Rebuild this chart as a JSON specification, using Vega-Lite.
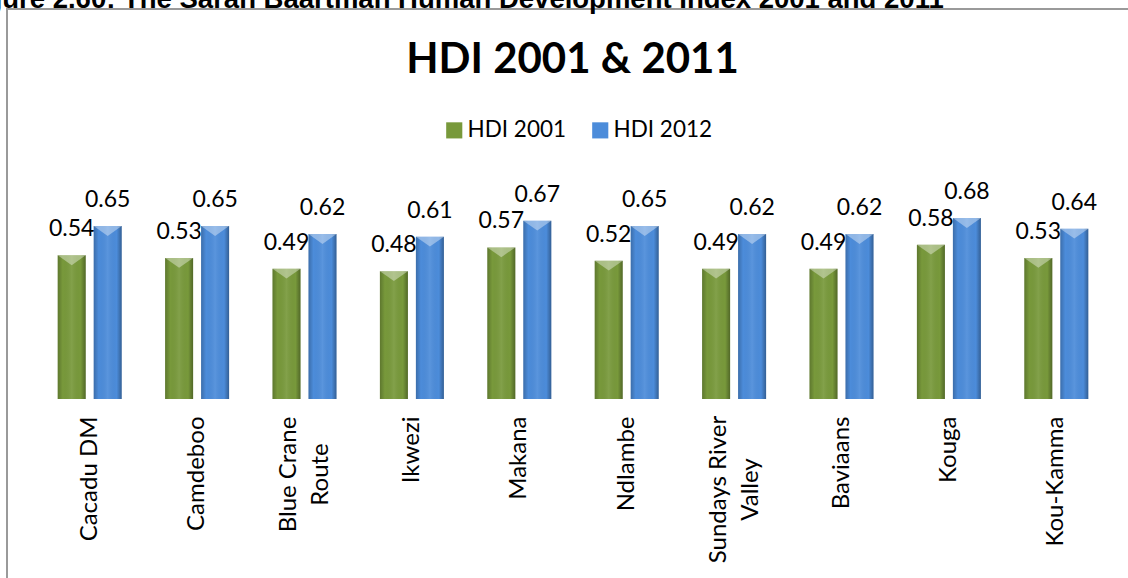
{
  "$schema": "https://vega.github.io/schema/vega-lite/v6.json",
  "width": 1132,
  "height": 575,
  "autosize": {"type": "none"},
  "padding": {"left": 7, "top": 9, "right": 0, "bottom": 0},
  "background": "white",
  "title": {
    "text": "Figure 2.60: The Sarah Baartman Human Development Index 2001 and 2011",
    "anchor": "start",
    "frame": "group",
    "dx": -46,
    "offset": -4,
    "font": "Liberation Sans",
    "fontSize": 27.5,
    "fontWeight": "bold",
    "color": "#000000"
  },
  "config": {
    "view": {"stroke": "#9a9a9a", "strokeWidth": 2},
    "font": "Lato"
  },
  "data": {
    "values": [
      {"district": "Cacadu DM", "series": "HDI 2001", "hdi": 0.54},
      {"district": "Cacadu DM", "series": "HDI 2012", "hdi": 0.65},
      {"district": "Camdeboo", "series": "HDI 2001", "hdi": 0.53},
      {"district": "Camdeboo", "series": "HDI 2012", "hdi": 0.65},
      {"district": "Blue Crane Route", "series": "HDI 2001", "hdi": 0.49},
      {"district": "Blue Crane Route", "series": "HDI 2012", "hdi": 0.62},
      {"district": "Ikwezi", "series": "HDI 2001", "hdi": 0.48},
      {"district": "Ikwezi", "series": "HDI 2012", "hdi": 0.61},
      {"district": "Makana", "series": "HDI 2001", "hdi": 0.57},
      {"district": "Makana", "series": "HDI 2012", "hdi": 0.67},
      {"district": "Ndlambe", "series": "HDI 2001", "hdi": 0.52},
      {"district": "Ndlambe", "series": "HDI 2012", "hdi": 0.65},
      {"district": "Sundays River Valley", "series": "HDI 2001", "hdi": 0.49},
      {"district": "Sundays River Valley", "series": "HDI 2012", "hdi": 0.62},
      {"district": "Baviaans", "series": "HDI 2001", "hdi": 0.49},
      {"district": "Baviaans", "series": "HDI 2012", "hdi": 0.62},
      {"district": "Kouga", "series": "HDI 2001", "hdi": 0.58},
      {"district": "Kouga", "series": "HDI 2012", "hdi": 0.68},
      {"district": "Kou-Kamma", "series": "HDI 2001", "hdi": 0.53},
      {"district": "Kou-Kamma", "series": "HDI 2012", "hdi": 0.64}
    ]
  },
  "encoding": {
    "x": {
      "field": "district",
      "type": "nominal",
      "sort": null,
      "axis": null,
      "scale": {"paddingInner": 0, "paddingOuter": 0.27}
    },
    "xOffset": {
      "field": "series",
      "type": "nominal",
      "scale": {"paddingInner": 0.222, "paddingOuter": 0.603}
    },
    "y": {
      "field": "hdi",
      "type": "quantitative",
      "stack": null,
      "scale": {"domain": [-0.6955, 1.4662], "nice": false, "zero": false},
      "axis": null
    }
  },
  "layer": [
    {
      "mark": {"type": "bar"},
      "encoding": {
        "x": {
          "field": "district",
          "type": "nominal",
          "sort": null,
          "axis": {
            "orient": "bottom",
            "offset": -185,
            "domain": false,
            "ticks": false,
            "title": null,
            "labelAngle": -90,
            "labelAlign": {
              "condition": {"test": "datum.value == 'Blue Crane Route' || datum.value == 'Sundays River Valley'", "value": "center"},
              "value": "right"
            },
            "labelPadding": {
              "condition": [
                {"test": "datum.value == 'Sundays River Valley'", "value": 90},
                {"test": "datum.value == 'Blue Crane Route'", "value": 75}
              ],
              "value": 17
            },
            "labelOffset": {
              "condition": {"test": "datum.value == 'Blue Crane Route' || datum.value == 'Sundays River Valley'", "value": -15},
              "value": 0
            },
            "labelBaseline": "middle",
            "labelFont": "Lato",
            "labelFontSize": 24,
            "labelColor": "#000000",
            "labelLineHeight": 32,
            "labelLimit": 400,
            "labelExpr": "datum.label == 'Blue Crane Route' ? ['Blue Crane', 'Route'] : datum.label == 'Sundays River Valley' ? ['Sundays River', 'Valley'] : datum.label"
          }
        },
        "color": {
          "field": "series",
          "type": "nominal",
          "scale": {"domain": ["HDI 2001", "HDI 2012"], "range": ["#78993b", "#4c8cda"]},
          "legend": {
            "orient": "none",
            "legendX": 436,
            "legendY": 110,
            "direction": "horizontal",
            "title": null,
            "symbolType": "square",
            "symbolSize": 260,
            "symbolStrokeWidth": 0,
            "labelFont": "Lato",
            "labelFontSize": 22.5,
            "labelColor": "#000000",
            "columnPadding": 22,
            "labelOffset": 2
          }
        }
      }
    },
    {
      "mark": {
        "type": "bar",
        "fill": {
          "x1": 0, "y1": 0, "x2": 1, "y2": 0,
          "gradient": "linear",
          "stops": [
            {"offset": 0, "color": "rgba(0,0,0,0.22)"},
            {"offset": 0.18, "color": "rgba(0,0,0,0)"},
            {"offset": 0.5, "color": "rgba(255,255,255,0.08)"},
            {"offset": 0.82, "color": "rgba(0,0,0,0)"},
            {"offset": 1, "color": "rgba(0,0,0,0.32)"}
          ]
        }
      }
    },
    {
      "mark": {
        "type": "point",
        "shape": "M-1,0L1,0L0,0.7Z",
        "filled": true,
        "size": 784,
        "color": "#ffffff",
        "opacity": 0.38,
        "strokeWidth": 0
      }
    },
    {
      "mark": {
        "type": "text",
        "baseline": "alphabetic",
        "dy": -19,
        "font": "Lato",
        "fontSize": 23,
        "color": "#000000"
      },
      "encoding": {
        "x": {
          "field": "district",
          "type": "nominal",
          "sort": null,
          "axis": {
            "orient": "top",
            "labels": false,
            "ticks": false,
            "domain": false,
            "grid": false,
            "title": "HDI 2001 & 2011",
            "titleFont": "Lato",
            "titleFontWeight": "bold",
            "titleFontSize": 42,
            "titleColor": "#000000",
            "titleX": 565,
            "titleY": 63,
            "titleAlign": "center",
            "titleBaseline": "alphabetic",
            "titleAnchor": null
          }
        },
        "text": {"field": "hdi", "type": "quantitative", "format": ".2f"}
      }
    },
    {
      "data": {"values": [{}]},
      "mark": {"type": "rule", "color": "#8a8a8a", "strokeWidth": 2},
      "encoding": {
        "x": {"datum": "Cacadu DM", "bandPosition": 0, "axis": null},
        "x2": {"datum": "Kou-Kamma", "bandPosition": 1},
        "y": {"datum": 0},
        "xOffset": null
      }
    }
  ]
}
